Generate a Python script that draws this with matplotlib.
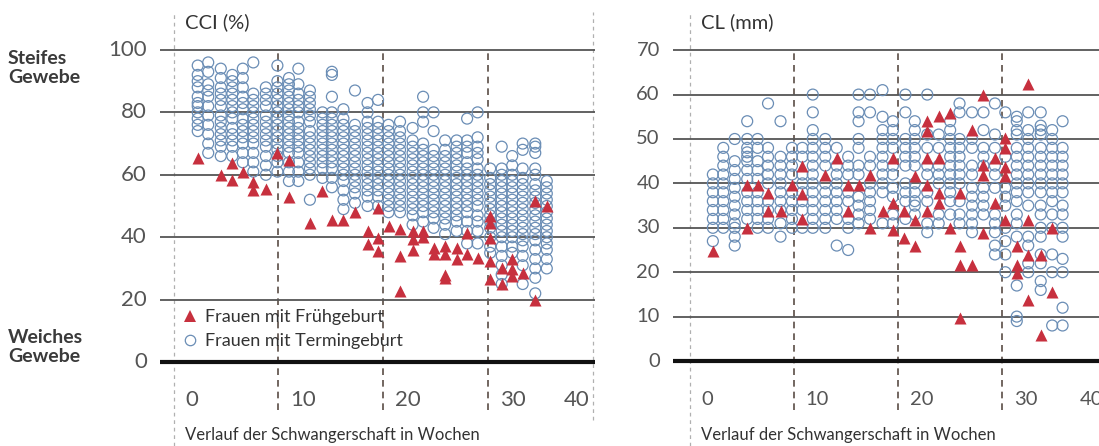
import numpy as np
import matplotlib
matplotlib.use("Agg")
import matplotlib.pyplot as plt
from matplotlib.lines import Line2D

plt.rcParams['font.family'] = ['Lato', 'DejaVu Sans']

# ---- CCI (%) : Termingeburt, one list per weekly column ----
cci_weeks = [2.3, 3.3, 4.5, 5.6, 6.6, 7.6, 8.8, 9.9, 11.0, 11.9, 13.0, 14.2, 15.1, 16.2,
             17.3, 18.5, 19.5, 20.5, 21.6, 22.8, 23.8, 24.8, 25.9, 27.0, 28.0, 29.0,
             30.2, 31.3, 32.3, 33.3, 34.5, 35.6]
cci_term = [
    [95, 92, 90, 88, 85, 83, 82, 80, 78, 76, 74],
    [96, 93, 89, 87, 85, 82, 79, 76, 73, 70, 67],
    [94, 91, 88, 86, 84, 82, 79, 77, 75, 73, 71, 69, 66],
    [92, 90, 88, 86, 84, 82, 80, 78, 75, 73, 71, 69, 66],
    [94, 91, 88, 85, 83, 81, 78, 76, 74, 72, 70, 67, 64],
    [96, 86, 84, 82, 80, 78, 76, 74, 72, 70, 67, 64, 61],
    [88, 86, 84, 82, 79, 77, 75, 73, 71, 69, 66, 63, 60],
    [95, 90, 88, 86, 84, 82, 80, 78, 76, 74, 72, 70, 68, 66, 64, 61],
    [91, 89, 87, 85, 83, 81, 79, 77, 75, 73, 71, 69, 67, 64, 61, 58],
    [94, 89, 86, 84, 82, 80, 77, 75, 73, 71, 69, 67, 64, 61, 58],
    [87, 85, 83, 81, 79, 77, 74, 72, 70, 68, 66, 64, 62, 60, 52],
    [80, 78, 76, 74, 72, 70, 68, 66, 64, 62, 59],
    [93, 92, 85, 80, 78, 76, 74, 72, 70, 68, 66, 64, 62, 59, 56],
    [81, 78, 76, 74, 72, 70, 68, 66, 64, 62, 60, 58, 55, 52, 49],
    [87, 76, 74, 72, 70, 68, 66, 64, 62, 60, 58, 56, 54, 51],
    [83, 80, 77, 75, 73, 71, 69, 67, 65, 63, 61, 59, 57, 55, 53, 50],
    [84, 77, 75, 73, 71, 69, 67, 65, 63, 61, 59, 57, 55, 53, 50],
    [76, 74, 72, 70, 68, 66, 64, 62, 60, 58, 56, 54, 52, 50, 48],
    [77, 74, 72, 70, 68, 66, 64, 62, 60, 58, 56, 54, 52, 50, 48],
    [75, 71, 69, 67, 65, 63, 61, 59, 57, 55, 53, 51, 49, 47, 44],
    [85, 80, 77, 70, 68, 66, 64, 62, 60, 58, 56, 54, 52, 50, 48, 45],
    [80, 74, 68, 66, 64, 62, 60, 58, 56, 54, 52, 50, 48, 46, 43],
    [71, 68, 66, 64, 62, 60, 58, 56, 54, 52, 50, 48, 46, 44, 41],
    [71, 69, 67, 65, 63, 61, 59, 57, 55, 53, 51, 49, 47, 45, 42],
    [78, 71, 69, 67, 64, 62, 60, 58, 56, 54, 52, 50, 48, 45, 42, 38],
    [80, 72, 69, 67, 65, 62, 60, 58, 56, 54, 52, 50, 47, 45, 42, 38],
    [62, 59, 57, 55, 53, 51, 49, 47, 45, 43, 40, 37, 35],
    [69, 62, 60, 58, 56, 54, 52, 50, 48, 46, 44, 42, 40, 37, 34, 31, 28, 25],
    [66, 63, 60, 58, 56, 54, 52, 50, 48, 46, 44, 42, 40, 37, 35],
    [70, 68, 62, 59, 57, 55, 53, 51, 49, 47, 45, 43, 41, 39, 37, 34, 31, 25],
    [70, 69, 67, 62, 60, 57, 55, 53, 51, 49, 47, 45, 43, 41, 39, 36, 33, 30, 27, 22],
    [58, 56, 54, 52, 50, 48, 46, 44, 42, 40, 38, 36, 33, 30],
]
# CCI : Frühgeburt
cci_pre_week = [2.3, 4.5, 5.6, 5.6, 6.6, 7.6, 7.6, 8.8, 9.9, 11.0, 11.0, 13.0, 14.2, 15.1,
                16.2, 17.3, 18.5, 18.5, 19.5, 19.5, 19.5, 20.5, 21.6, 21.6, 21.6, 22.8,
                22.8, 22.8, 23.8, 23.8, 24.8, 24.8, 25.9, 25.9, 25.9, 25.9, 27.0, 27.0,
                28.0, 28.0, 29.0, 30.2, 30.2, 30.2, 30.2, 30.2, 31.3, 31.3, 32.3, 32.3,
                32.3, 33.3, 34.5, 34.5, 35.6]
cci_pre_val = [65.5, 60, 63.7, 58.4, 61, 57.8, 55.1, 55.6, 66.9, 64.7, 53, 44.5, 54.8, 45.5,
               45.5, 48.2, 42, 37.7, 49.4, 39.8, 35.6, 43.6, 42.5, 34, 22.7, 42,
               39.3, 36, 42, 40, 36.6, 34.5, 37.2, 34.5, 28, 27, 36.6, 33,
               41.4, 34.5, 33.4, 46.8, 44.6, 39.8, 32.3, 26.5, 30.2, 24.9, 32.9, 29.7,
               27.5, 28.6, 51.6, 20, 50]

# ---- CL (mm) : Termingeburt ----
cl_weeks = [2.2, 3.2, 4.3, 5.5, 6.5, 7.5, 8.7, 9.8, 10.8, 11.8, 13.0, 14.1, 15.2, 16.2,
            17.3, 18.5, 19.5, 20.7, 21.6, 22.8, 23.9, 25.0, 25.9, 27.1, 28.2, 29.3,
            30.3, 31.4, 32.5, 33.7, 34.8, 35.8]
cl_term = [
    [42, 40, 38, 36, 34, 32, 30, 27],
    [48, 46, 44, 42, 40, 38, 36, 34, 32, 30],
    [50, 45, 43, 41, 39, 37, 35, 33, 31, 30, 28, 26],
    [54, 50, 48, 47, 46, 45, 43, 41, 38, 36, 34, 32],
    [50, 48, 45, 43, 41, 38, 36, 34, 32, 30],
    [58, 48, 46, 44, 42, 40, 36, 34, 32, 30],
    [54, 46, 44, 42, 40, 38, 36, 34, 31, 28],
    [48, 46, 44, 42, 38, 36, 34, 32, 30],
    [48, 46, 42, 40, 38, 36, 34, 30],
    [60, 56, 52, 50, 48, 46, 44, 42, 40, 38, 36, 34, 32, 30],
    [50, 48, 46, 44, 40, 38, 36, 34, 32, 30],
    [48, 44, 42, 40, 38, 36, 34, 32, 26],
    [46, 44, 42, 38, 36, 32, 30, 25],
    [60, 56, 54, 50, 48, 44, 42, 37, 35, 33, 31],
    [60, 56, 46, 44, 40, 38, 36, 34, 32],
    [61, 55, 52, 50, 48, 46, 44, 42, 40, 38, 31],
    [54, 52, 50, 48, 44, 42, 39, 37, 33, 31],
    [60, 56, 50, 48, 46, 44, 40, 38, 36, 32],
    [54, 52, 50, 48, 46, 44, 40, 38, 36, 35, 33],
    [60, 51, 48, 44, 42, 38, 36, 31, 29],
    [51, 48, 44, 42, 40, 33, 31],
    [54, 52, 50, 48, 46, 44, 42, 40, 38, 36, 33],
    [58, 56, 50, 48, 46, 44, 42, 40, 36, 33, 31],
    [56, 50, 48, 44, 42, 39, 37, 35, 33, 31, 29],
    [56, 52, 48, 46, 44, 39, 37, 35, 33],
    [58, 51, 48, 44, 42, 39, 33, 31, 29, 26, 24],
    [56, 46, 39, 37, 35, 30, 27, 24, 20],
    [55, 54, 52, 51, 48, 46, 44, 42, 40, 38, 36, 33, 31, 28, 17, 10, 9],
    [56, 52, 50, 48, 46, 44, 42, 40, 38, 35, 28, 26, 22, 20],
    [56, 53, 52, 51, 48, 46, 44, 42, 40, 38, 35, 33, 30, 28, 24, 22, 18, 16],
    [52, 50, 48, 46, 44, 42, 40, 38, 36, 33, 30, 24, 20, 8],
    [54, 48, 46, 44, 42, 40, 38, 35, 33, 30, 28, 23, 20, 12, 8],
]
# CL : Frühgeburt
cl_pre_week = [2.2, 5.5, 5.5, 6.5, 7.5, 7.5, 8.7, 9.8, 10.8, 10.8, 10.8, 13.0, 14.1, 15.2,
               15.2, 16.2, 17.3, 17.3, 18.5, 19.5, 19.5, 19.5, 20.6, 20.6, 21.6, 21.6,
               21.6, 22.8, 22.8, 22.8, 22.8, 22.8, 23.9, 23.9, 23.9, 23.9, 25.0, 25.0,
               25.9, 25.9, 25.9, 25.9, 27.1, 27.1, 28.2, 28.2, 28.2, 28.2, 29.3, 29.3,
               30.3, 30.3, 30.3, 30.3, 30.3, 31.4, 31.4, 31.4, 32.5, 32.5, 32.5, 32.5,
               33.7, 33.7, 34.8, 34.8]
cl_pre_val = [24.7, 39.7, 30, 39.7, 37.9, 33.7, 33.7, 39.7, 43.9, 37.5, 31.9, 42, 45.7, 39.7,
              33.7, 39.7, 42, 30, 33.7, 45.7, 35.6, 29.6, 33.7, 27.7, 41.6, 31.8,
              25.8, 54, 51.7, 45.7, 39.7, 33.7, 55.1, 45.7, 37.8, 35.6, 55.9, 29.9,
              37.8, 25.8, 21.7, 9.6, 52.1, 21.7, 60, 44.2, 42, 28.8, 45.7, 35.6,
              50.2, 48, 43.8, 41.6, 31.8, 25.8, 21.7, 19.8, 62.3, 31.8, 23.9, 13.8,
              23.9, 5.9, 29.9, 15.6]

cci_yticks = [0, 20, 40, 60, 80, 100]
cl_yticks = [0, 10, 20, 30, 40, 50, 60, 70]
xticks = [0, 10, 20, 30, 40]

blue = '#6a8db5'
red = '#c7303e'
grey = '#555555'

fig = plt.figure(figsize=(10.99, 4.46), dpi=100)


def panel(rect, xlim, ylim, weeks, term, pre_w, pre_v, yticks, title, fs, ylab_x):
    ax = fig.add_axes(rect)
    ax.set_xlim(*xlim)
    ax.set_ylim(*ylim)
    ax.axis('off')
    for v in yticks:
        if v == 0:
            ax.axhline(v, color='#111111', lw=3, zorder=1)
        else:
            ax.axhline(v, color=grey, lw=1.3, zorder=1)
        ax.text(ylab_x, v, str(v), transform=ax.get_yaxis_transform(),
                ha='right', va='center', fontsize=fs, color=grey)
    # dashed verticals
    ax.axvline(0, ymin=0, ymax=0.973, color='#b0b0b0', lw=0.9, dashes=(3, 3), zorder=0)
    ax.axvline(40, ymin=0.058, ymax=0.973, color='#b0b0b0', lw=0.9, dashes=(3, 3), zorder=0)
    for w in [10, 20, 30]:
        ax.axvline(w, ymin=0.081, ymax=0.888, color='#5a4d45', lw=1.2, dashes=(4, 3), zorder=0)
    for w in xticks:
        if w == 40:
            ax.text(w - 0.3, 0.104, str(w), transform=ax.get_xaxis_transform(),
                    ha='right', va='center', fontsize=fs, color=grey)
        else:
            ax.text(w + 1.1, 0.104, str(w), transform=ax.get_xaxis_transform(),
                    ha='left', va='center', fontsize=fs, color=grey)
    ax.text(1.1, 0.025, 'Verlauf der Schwangerschaft in Wochen', transform=ax.get_xaxis_transform(),
            ha='left', va='center', fontsize=12, color='#333333')
    ax.text(1.1, 0.951, title, transform=ax.get_xaxis_transform(),
            ha='left', va='center', fontsize=14.5, color='#333333')

    xs = np.repeat(weeks, [len(c) for c in term])
    ys = np.concatenate([np.array(c, float) for c in term])
    ax.scatter(xs, ys, s=62, facecolors='none', edgecolors=blue, linewidths=0.9, zorder=2)
    ax.scatter(pre_w, pre_v, s=75, marker='^', color=red, linewidths=0, zorder=3)
    return ax


ax1 = panel([160 / 1099, 0, 435 / 1099, 1], (-1.3, 40.2), (-26.9, 116.0),
            cci_weeks, cci_term, cci_pre_week, cci_pre_val, cci_yticks, 'CCI (%)', 16, -0.03)
ax2 = panel([673 / 1099, 0, 426 / 1099, 1], (-1.63, 39.3), (-19.14, 81.3),
            cl_weeks, cl_term, cl_pre_week, cl_pre_val, cl_yticks, 'CL (mm)', 14.5, -0.031)

handles = [Line2D([], [], marker='^', ls='none', color=red, markersize=8, markeredgewidth=0),
           Line2D([], [], marker='o', ls='none', markerfacecolor='none', markeredgecolor=blue,
                  markersize=7.5, markeredgewidth=0.9)]
leg = ax1.legend(handles, ['Frauen mit Frühgeburt', 'Frauen mit Termingeburt'],
                 loc='upper left', bbox_to_anchor=(181 / 1099, 1 - 309 / 446),
                 bbox_transform=fig.transFigure, frameon=False, fontsize=13,
                 handlelength=1.0, handletextpad=0.35, labelspacing=0.45, borderpad=0,
                 borderaxespad=0)
for t in leg.get_texts():
    t.set_color('#333333')

fig.text(8 / 1099, 1 - 68 / 446, 'Steifes\nGewebe', ha='left', va='center', fontsize=14,
         fontweight='bold', color='#3a3a3a', linespacing=1.15)
fig.text(8 / 1099, 1 - 347 / 446, 'Weiches\nGewebe', ha='left', va='center', fontsize=14,
         fontweight='bold', color='#3a3a3a', linespacing=1.15)

fig.savefig('out.png', dpi=100)
